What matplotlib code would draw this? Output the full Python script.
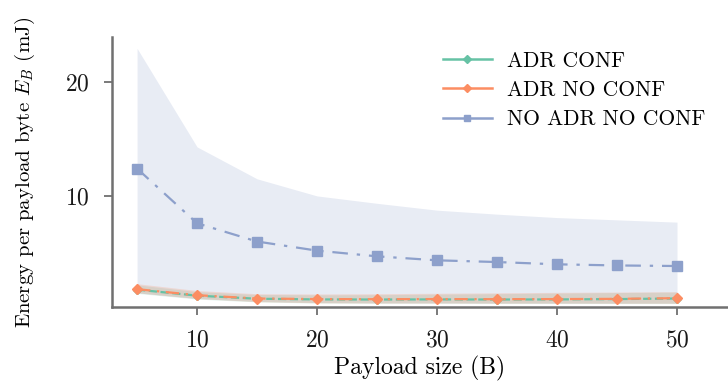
import numpy as np
from matplotlib import pyplot as plt
from matplotlib.lines import Line2D

plt.rcParams['font.family'] = ['cmr10', 'DejaVu Serif']
plt.rcParams['mathtext.fontset'] = 'cm'
plt.rcParams['axes.formatter.use_mathtext'] = True

payload = [5, 10, 15, 20, 25, 30, 35, 40, 45, 50]

# mean energy per byte (mJ) and band limits
adr_conf = [1.78, 1.25, 0.98, 0.92, 0.91, 0.92, 0.91, 0.92, 0.95, 1.0]
adr_conf_lo = [1.45, 0.95, 0.7, 0.6, 0.58, 0.58, 0.57, 0.57, 0.56, 0.56]
adr_conf_hi = [2.2, 1.6, 1.35, 1.32, 1.33, 1.38, 1.42, 1.47, 1.52, 1.56]

adr_noconf = [1.82, 1.29, 1.0, 0.95, 0.94, 0.95, 0.94, 0.95, 0.97, 1.03]
adr_noconf_lo = [1.5, 1.0, 0.72, 0.62, 0.6, 0.6, 0.59, 0.59, 0.58, 0.58]
adr_noconf_hi = [2.3, 1.7, 1.42, 1.4, 1.42, 1.46, 1.5, 1.54, 1.57, 1.6]

noadr = [12.4, 7.6, 6.0, 5.2, 4.7, 4.35, 4.2, 4.0, 3.9, 3.85]
noadr_lo = [1.5, 1.0, 0.75, 0.65, 0.62, 0.62, 0.6, 0.6, 0.6, 0.6]
noadr_hi = [22.95, 14.3, 11.5, 10.0, 9.35, 8.75, 8.4, 8.1, 7.9, 7.7]

c_green = '#66c2a5'
c_orange = '#fc8d62'
c_blue = '#8da0cb'

fig = plt.figure(figsize=(7.28, 3.83), dpi=100)
ax = fig.add_axes([0.154, 0.198, 0.846, 0.705])

ax.fill_between(payload, noadr_lo, noadr_hi, color=c_blue, alpha=0.2, lw=0)
ax.fill_between(payload, adr_conf_lo, adr_conf_hi, color=c_green, alpha=0.2, lw=0)
ax.fill_between(payload, adr_noconf_lo, adr_noconf_hi, color=c_orange, alpha=0.22, lw=0)

ax.plot(payload, adr_conf, color=c_green, ls='--', lw=1.6, marker='D', ms=4)
ax.plot(payload, adr_noconf, color=c_orange, ls=(0, (6, 3, 1, 3)), lw=1.6,
        marker='D', ms=5.5)
ax.plot(payload, noadr, color=c_blue, ls=(0, (7, 4, 1.5, 4)), lw=1.6,
        marker='s', ms=6.5)

ax.set_xlim(2.92, 54.25)
ax.set_ylim(0.24, 23.93)
ax.set_xticks([10, 20, 30, 40, 50])
ax.set_yticks([10, 20])

for s in ['top', 'right']:
    ax.spines[s].set_visible(False)
for s in ['left', 'bottom']:
    ax.spines[s].set_color('#707070')
    ax.spines[s].set_linewidth(1.8)
ax.tick_params(direction='out', length=6, width=1.3, color='#707070',
               labelsize=17, labelcolor='#1a1a1a', pad=10)

ax.set_xlabel('Payload size (B)', fontsize=17, labelpad=3)
ax.set_ylabel('Energy per payload byte $E_B$ (mJ)', fontsize=15, labelpad=20)

handles = [
    Line2D([], [], color=c_green, lw=1.8, marker='D', ms=4),
    Line2D([], [], color=c_orange, lw=1.8, marker='D', ms=4.5),
    Line2D([], [], color=c_blue, lw=1.8, marker='s', ms=5),
]
labels = ['ADR CONF', 'ADR NO CONF', 'NO ADR NO CONF']
ax.legend(handles, labels, loc='upper right', bbox_to_anchor=(0.995, 1.02),
          frameon=False, fontsize=15.5, handlelength=2.3, labelspacing=0.45,
          handletextpad=0.7)

fig.savefig('out.png', dpi=100)
